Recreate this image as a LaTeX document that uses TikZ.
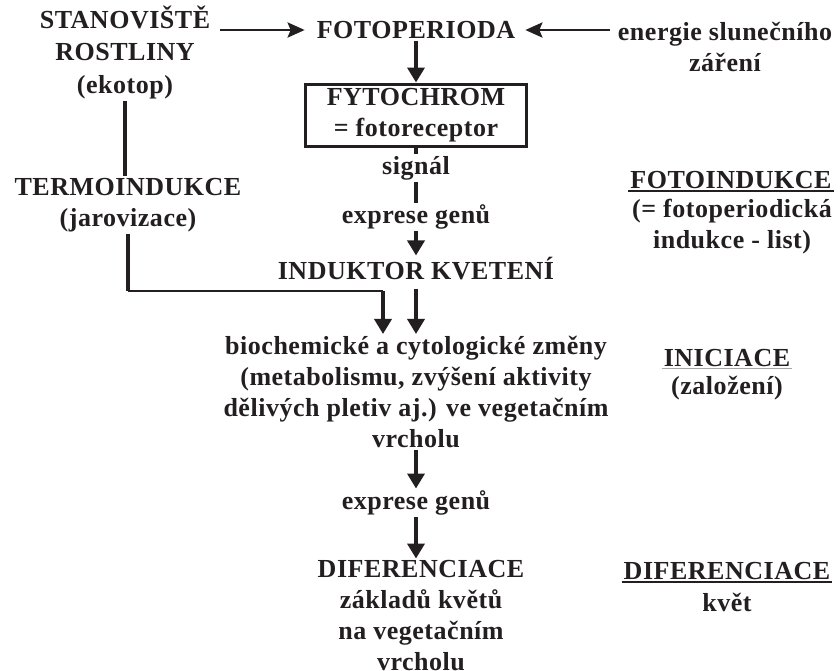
\documentclass[tikz,border=0pt]{standalone}
\usepackage{fontspec}
\setmainfont{Liberation Serif}[LetterSpace=2]
\usetikzlibrary{arrows.meta}
\definecolor{ink}{HTML}{231F20}
\tikzset{
  mainarrow/.style={-{Triangle[length=15pt, width=17pt]}, line width=3.6pt, ink},
  sidearrow/.style={-{Stealth[length=17pt, width=15pt, inset=3pt]}, line width=2.8pt, ink},
  plainline/.style={line width=3.6pt, ink},
  thinline/.style={line width=1.8pt, ink},
  labelnode/.style={font=\bfseries\fontsize{26}{31}\selectfont, text=ink, align=center, inner sep=2pt},
  receptorbox/.style={labelnode, draw=ink, line width=3pt, minimum width=221pt, minimum height=62pt},
  titlerule/.style={line width=2pt, ink},
  softrule/.style={line width=1pt, gray!70}
}

\begin{document}
\begin{tikzpicture}[x=1pt, y=-1pt]
  \path[fill=white, use as bounding box] (0,0) rectangle (840,670);

  % top row
  \node[labelnode, font=\bfseries\fontsize{26}{32.5}\selectfont] (stan) at (125,52) {STANOVIŠTĚ\\ROSTLINY\\(ekotop)};
  \node[labelnode] (foto) at (416,30) {FOTOPERIODA};
  \node[labelnode] (energ) at (725,47) {energie slunečního\\záření};
  \node[receptorbox] (fyto) at (416,115) {FYTOCHROM\\= fotoreceptor};

  % middle column
  \node[labelnode] (signal) at (416,168) {signál};
  \node[labelnode] (expr1) at (416,217) {exprese genů};
  \node[labelnode] (indu) at (416,269) {INDUKTOR KVETENÍ};
  \node[labelnode] (termo) at (128,205) {TERMOINDUKCE\\(jarovizace)};
  \node[labelnode] (bio) at (416,392) {biochemické a cytologické změny\\(metabolismu, zvýšení aktivity\\dělivých pletiv aj.) ve vegetačním\\vrcholu};
  \node[labelnode] (expr2) at (416,503) {exprese genů};
  \node[labelnode] (dif) at (421,616) {DIFERENCIACE\\základů květů\\na vegetačním\\vrcholu};
  \coordinate (join) at (383,291);

  % stages on the right
  \node[labelnode] (fititle) at (731,180) {FOTOINDUKCE};
  \node[labelnode] (fibody) at (732,227) {(= fotoperiodická\\indukce - list)};
  \node[labelnode] (ictitle) at (727,358) {INICIACE};
  \node[labelnode] (icbody) at (727,388) {(založení)};
  \node[labelnode] (dftitle) at (727,571) {DIFERENCIACE};
  \node[labelnode] (dfbody) at (727,602) {květ};

  \draw[sidearrow, shorten <=8pt, shorten >=10pt] (stan.east |- foto) -- (foto.west);
  \draw[sidearrow, shorten <=6pt, shorten >=8pt] (energ.west |- foto) -- (foto.east);
  \draw[mainarrow] (foto) -- (fyto);
  \draw[plainline] (fyto) -- (signal);
  \draw[plainline] (signal) -- (expr1);
  \draw[mainarrow] (expr1) -- (indu);
  \draw[mainarrow, shorten <=6pt] (indu) -- (bio);
  \draw[plainline] (stan.south) -- (stan.south |- termo.north);
  \draw[plainline] (termo.south) -- (termo.south |- join);
  \draw[thinline] (termo.south |- join) -- (join);
  \draw[mainarrow] (join) -- (join |- bio.north);
  \draw[mainarrow] (bio) -- (expr2);
  \draw[mainarrow] (expr2) -- (expr2 |- dif.north);

  \draw[titlerule] (fititle.south west) -- (fititle.south east);
  \draw[softrule] (ictitle.south west) -- (ictitle.south east);
  \draw[titlerule] (dftitle.south west) -- (dftitle.south east);
\end{tikzpicture}
\end{document}
